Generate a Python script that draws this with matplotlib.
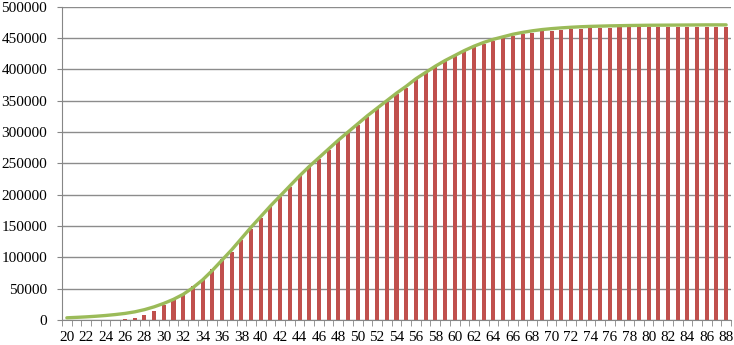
import matplotlib
matplotlib.use('Agg')
import matplotlib.pyplot as plt
from matplotlib.ticker import FixedLocator

# categories 20..88
ages = list(range(20, 89))

# bar heights (cumulative counts)
bar_values = [0, 0, 0, 0, 0, 300, 800, 3000, 7500, 14000,
              23500, 32000, 42000, 54000, 66000, 82000, 97000, 109000, 128000, 145000,
              162000, 180000, 197000, 213000, 230000, 245000, 257000, 271000, 285000, 298000,
              311000, 324000, 336000, 348000, 360000, 371000, 384000, 394000, 405000, 413000,
              422000, 430000, 436000, 441000, 446000, 450000, 453500, 456000, 458500, 460500,
              462000, 463000, 464000, 465000, 465500, 466000, 466500, 467000, 467000, 467500,
              467500, 468000, 468000, 468000, 468000, 468000, 468000, 468000, 468000]

# fitted curve
line_values = [3500, 4200, 5000, 6000, 7200, 8700, 10500, 13000, 16500, 21000,
               26500, 33000, 41000, 51500, 64000, 79000, 95500, 112000, 130000, 148000,
               165000, 182000, 198000, 214000, 230000, 245000, 259000, 273000, 287000, 300000,
               313000, 326000, 338000, 350000, 362000, 373000, 385000, 395000, 405000, 414000,
               422000, 430000, 437000, 443000, 448000, 452000, 456000, 459000, 461500, 463500,
               465000, 466200, 467200, 468000, 468600, 469000, 469400, 469700, 470000, 470200,
               470400, 470500, 470600, 470700, 470800, 470900, 471000, 471000, 471000]

plt.rcParams['font.family'] = ['Liberation Serif', 'DejaVu Serif']

fig = plt.figure(figsize=(7.34, 3.45), dpi=100)
ax = fig.add_axes([62 / 734, 25 / 345, (731 - 62) / 734, (320 - 6.7) / 345])

x = list(range(len(ages)))
ax.bar(x, bar_values, width=0.42, color='#C0504D', zorder=2)
ax.plot(x, line_values, color='#9BBB59', linewidth=2.4, zorder=3, solid_capstyle='round')

ax.set_xlim(-0.5, len(ages) - 0.5)
ax.set_ylim(0, 500000)
ax.set_yticks(range(0, 500001, 50000))
ax.tick_params(axis='y', labelsize=11, length=3.6, color='#868686', pad=7)
ax.yaxis.grid(True, color='#8c8c8c', linewidth=1, zorder=0)
ax.set_axisbelow(True)

# labels every second category, ticks at category boundaries
ax.set_xticks(x[::2])
ax.set_xticklabels([str(a) for a in ages[::2]])
ax.tick_params(axis='x', which='major', length=0, labelsize=11, pad=8)
ax.xaxis.set_minor_locator(FixedLocator([i - 0.5 for i in range(len(ages) + 1)]))
ax.tick_params(axis='x', which='minor', length=4, color='#868686')

for side in ['top', 'right']:
    ax.spines[side].set_visible(False)
for side in ['left', 'bottom']:
    ax.spines[side].set_color('#868686')

fig.savefig('out.png', dpi=100)
